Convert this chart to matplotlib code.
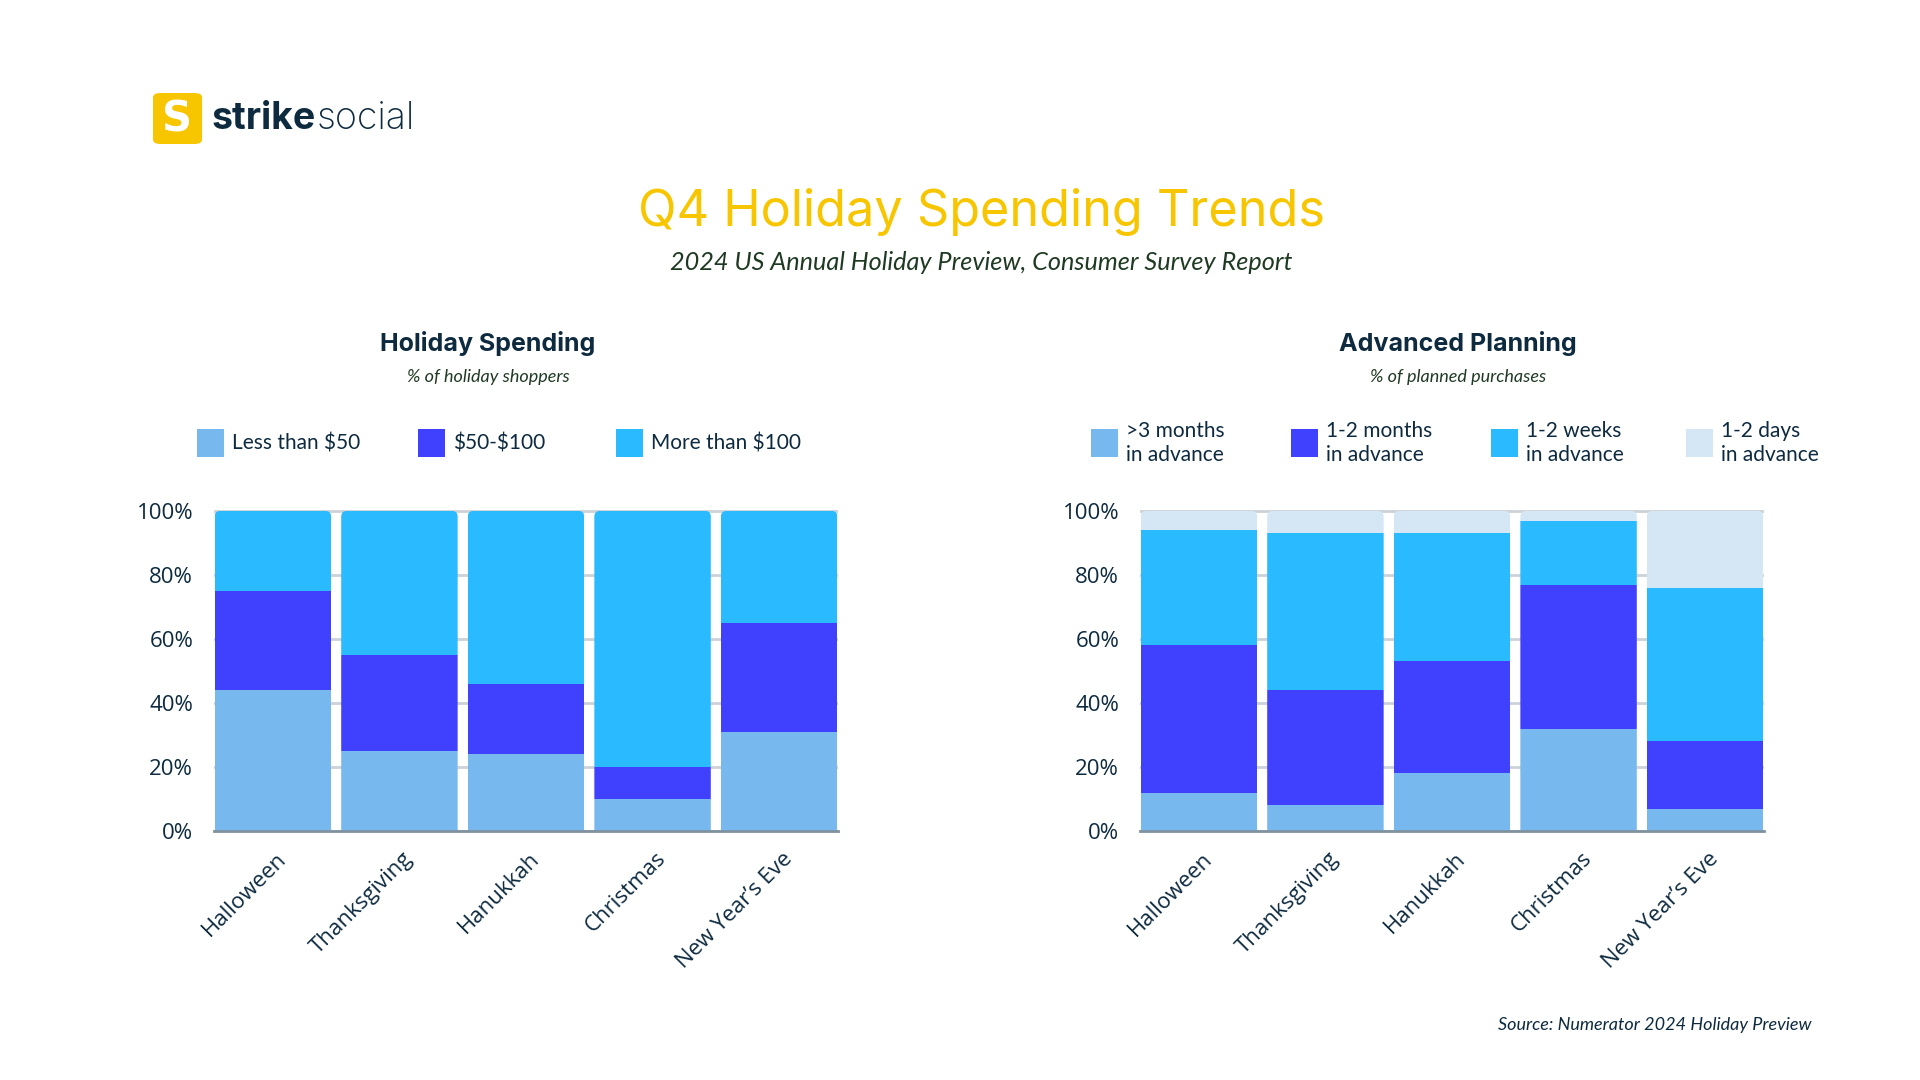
import matplotlib
matplotlib.use("Agg")
import matplotlib.pyplot as plt
from matplotlib.patches import FancyBboxPatch, Rectangle
import matplotlib.transforms as mtransforms
import numpy as np

# data
holidays = ["Halloween", "Thanksgiving", "Hanukkah", "Christmas", "New Year\u2019s Eve"]

spend_labels = ["Less than \\$50", "\\$50-\\$100", "More than \\$100"]
spend_under50 = [44, 25, 24, 10, 31]
spend_50_100 = [31, 30, 22, 10, 34]
spend_over100 = [25, 45, 54, 80, 35]

plan_labels = [">3 months\nin advance", "1-2 months\nin advance", "1-2 weeks\nin advance", "1-2 days\nin advance"]
plan_3months = [12, 8, 18, 32, 7]
plan_1_2months = [46, 36, 35, 45, 21]
plan_1_2weeks = [36, 49, 40, 20, 48]
plan_1_2days = [6, 7, 7, 3, 24]

yticks = [0, 20, 40, 60, 80, 100]

colors = ["#77B8EE", "#4040FF", "#29BAFF", "#D5E7F5"]
navy = "#0D2A3F"
green = "#1F3A22"
yellow = "#F7C600"

W, H = 1920, 1080
fig = plt.figure(figsize=(19.2, 10.8), dpi=100)
fig.patch.set_facecolor("white")


def fx(px):
    return px / W


def fy(py):
    return 1 - py / H


# logo
logo = FancyBboxPatch((fx(153), fy(144)), fx(49), 51 / H,
                      boxstyle="round,pad=0,rounding_size=0.004",
                      transform=fig.transFigure, facecolor=yellow, edgecolor="none")
fig.patches.append(logo)
fig.text(fx(177), fy(119), "S", color="white", fontsize=30, fontweight="heavy",
         family="DejaVu Sans", ha="center", va="center")
t1 = fig.text(fx(212), fy(119), "strike", color=navy, fontsize=27, fontweight="bold",
              family="Inter", ha="left", va="center")
fig.canvas.draw()
bb = t1.get_window_extent()
fig.text(bb.x1 / W, fy(119), "social", color=navy, fontsize=27, fontweight="light",
         family="Inter", ha="left", va="center")

# titles
fig.text(0.511, fy(212), "Q4 Holiday Spending Trends", color=yellow, fontsize=36.3,
         family="Inter", fontweight="normal", ha="center", va="center")
fig.text(0.511, fy(262), "2024 US Annual Holiday Preview, Consumer Survey Report", color=green,
         fontsize=18.2, family="Lato", style="italic", ha="center", va="center")

fig.text(fx(488), fy(343), "Holiday Spending", color=navy, fontsize=18, fontweight="bold",
         family="Inter", ha="center", va="center")
fig.text(fx(488), fy(377), "% of holiday shoppers", color=green, fontsize=13,
         family="Lato", style="italic", ha="center", va="center")
fig.text(fx(1458), fy(343), "Advanced Planning", color=navy, fontsize=18, fontweight="bold",
         family="Inter", ha="center", va="center")
fig.text(fx(1458), fy(377), "% of planned purchases", color=green, fontsize=13,
         family="Lato", style="italic", ha="center", va="center")

fig.text(fx(1811), fy(1025), "Source: Numerator 2024 Holiday Preview", color=navy, fontsize=13,
         family="Lato", style="italic", ha="right", va="center")


# legends
def legend_item(x, y, color, label):
    fig.patches.append(Rectangle((fx(x), fy(y + 14)), 27 / W, 28 / H, transform=fig.transFigure,
                                 facecolor=color, edgecolor="none"))
    fig.text(fx(x + 35), fy(y), label, color=navy, fontsize=15, family="Lato",
             ha="left", va="center", linespacing=1.3)


for x, c, lab in zip([197, 418, 616], colors, spend_labels):
    legend_item(x, 443, c, lab)
for x, c, lab in zip([1091, 1291, 1491, 1686], colors, plan_labels):
    legend_item(x, 443, c, lab)


def setup_axes(ax):
    ax.set_ylim(0, 100.6)
    ax.set_xlim(-0.465, 4.465)
    ax.set_yticks(yticks)
    ax.set_yticklabels([f"{v}%" for v in yticks], family="Open Sans", fontsize=16, color=navy)
    ax.yaxis.grid(True, color="#CDD2D6", linewidth=2, zorder=0)
    ax.set_axisbelow(True)
    for s in ["top", "right", "left"]:
        ax.spines[s].set_visible(False)
    ax.spines["bottom"].set_color("#7F929F")
    ax.spines["bottom"].set_linewidth(2)
    ax.spines["bottom"].set_zorder(5)
    ax.tick_params(axis="y", length=0, pad=15)
    ax.tick_params(axis="x", length=0, pad=8)
    ax.set_xticks(range(len(holidays)))
    labels = ax.set_xticklabels(holidays, rotation=45, ha="right", rotation_mode="anchor",
                                family="Open Sans", fontsize=16, color=navy)
    offset = mtransforms.ScaledTranslation(0.03, -0.06, fig.dpi_scale_trans)
    for lab in labels:
        lab.set_transform(lab.get_transform() + offset)


def stacked(ax, series):
    # stacked bars with slightly rounded top corners
    x = np.arange(len(holidays))
    bw = 0.92
    aspect = (100.6 / 322) / (4.93 / 624)
    clips = [FancyBboxPatch((xi - bw / 2, -20), bw, 120, boxstyle="round,pad=0,rounding_size=0.045",
                            mutation_aspect=aspect, transform=ax.transData)
             for xi in x]
    bottom = np.zeros(len(holidays))
    for vals, c in zip(series, colors):
        bars = ax.bar(x, vals, bw, bottom=bottom, color=c, edgecolor="none", zorder=2)
        for rect, cp in zip(bars, clips):
            rect.set_clip_path(cp)
        bottom += np.array(vals)
    setup_axes(ax)


ax1 = fig.add_axes([fx(214), 1 - 831 / H, 624 / W, 322 / H])
stacked(ax1, [spend_under50, spend_50_100, spend_over100])

ax2 = fig.add_axes([fx(1140), 1 - 831 / H, 624 / W, 322 / H])
stacked(ax2, [plan_3months, plan_1_2months, plan_1_2weeks, plan_1_2days])

fig.savefig("out.png", dpi=100, facecolor="white")
